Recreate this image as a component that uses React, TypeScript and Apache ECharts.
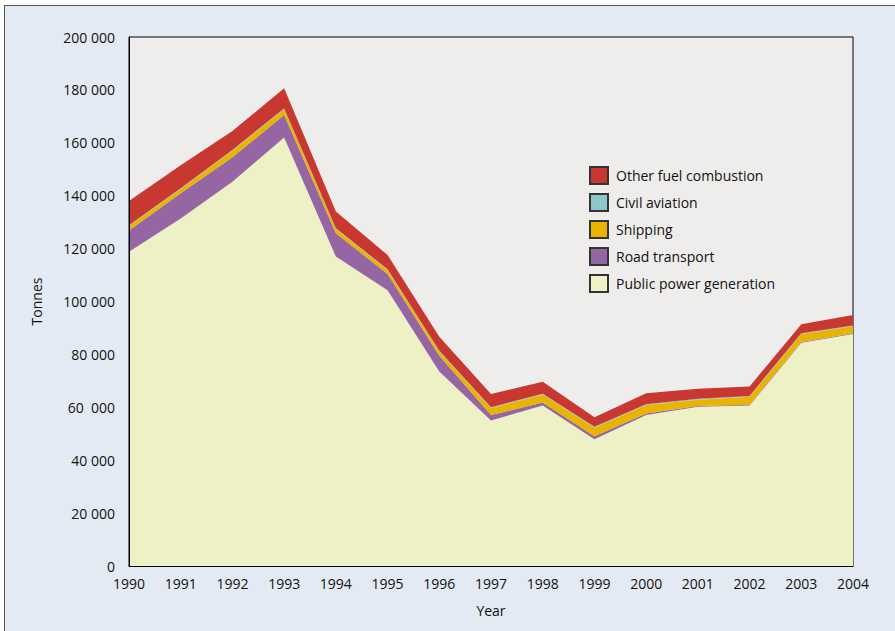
import React, { useEffect, useRef } from "react";
import * as echarts from "echarts";

const years = ["1990","1991","1992","1993","1994","1995","1996","1997","1998","1999","2000","2001","2002","2003","2004"];
const publicPower = [118800,131400,145300,162000,117000,104300,73500,55000,60700,47900,57100,60200,60700,84400,87700];
const roadTransport = [8000,9500,9200,8500,8800,6100,6000,2100,1100,1200,600,300,300,300,300];
const shipping = [1700,1600,2500,2200,1600,1500,1600,2600,3000,3200,3200,2400,3000,3000,2600];
const civilAviation = [300,300,300,300,300,300,300,300,300,300,300,300,300,300,300];
const otherFuel = [9200,8700,7200,7600,6300,5400,5300,5000,4600,3600,4100,3800,3600,3400,4000];
const yTickLabels = ["0","20 000","40 000","60  000","80 000","100 000","120 000","140 000","160 000","180 000","200 000"];

const FONT = "'Open Sans', sans-serif";

export default function App() {
  const ref = useRef<HTMLDivElement>(null);
  useEffect(() => {
    if (!ref.current) return;
    const chart = echarts.init(ref.current, null, { renderer: "svg" });
    const mk = (name: string, data: number[], color: string, z: number) => ({
      name,
      type: "line",
      stack: "total",
      data,
      symbol: "none",
      lineStyle: { width: 0 },
      areaStyle: { color, opacity: 1 },
      itemStyle: { color, borderColor: "#333", borderWidth: 1 },
      z,
    });
    chart.setOption({
      animation: false,
      textStyle: { fontFamily: FONT },
      grid: {
        left: 129, top: 37, right: 42, bottom: 65,
        show: true, backgroundColor: "#eeedeb", borderColor: "#000", borderWidth: 1,
      },
      legend: {
        orient: "vertical",
        left: 584, top: 161,
        itemWidth: 18, itemHeight: 17, itemGap: 8,
        icon: "rect",
        textStyle: { fontFamily: FONT, fontSize: 14, color: "#111", padding: [0, 0, 0, 3] },
        data: ["Other fuel combustion","Civil aviation","Shipping","Road transport","Public power generation"],
      },
      xAxis: {
        type: "category",
        data: years,
        boundaryGap: false,
        name: "Year",
        nameLocation: "middle",
        nameGap: 37,
        nameTextStyle: { fontFamily: FONT, fontSize: 14, color: "#111" },
        axisLine: { lineStyle: { color: "#000", width: 1 } },
        axisTick: { show: false },
        axisLabel: { fontFamily: FONT, fontSize: 14, color: "#111", margin: 10 },
        z: 10,
      },
      yAxis: {
        type: "value",
        min: 0, max: 200000, interval: 20000,
        name: "Tonnes",
        nameLocation: "middle",
        nameGap: 86,
        nameTextStyle: { fontFamily: FONT, fontSize: 14, color: "#111" },
        splitLine: { show: false },
        axisLine: { show: true, lineStyle: { color: "#000", width: 1 } },
        axisTick: { show: false },
        axisLabel: {
          fontFamily: FONT, fontSize: 14, color: "#111", margin: 14,
          formatter: (v: number) => yTickLabels[Math.round(v / 20000)] ?? "",
        },
        z: 10,
      },
      series: [
        mk("Public power generation", publicPower, "#eef0c6", 2),
        mk("Road transport", roadTransport, "#9566a3", 3),
        mk("Shipping", shipping, "#e8b400", 4),
        mk("Civil aviation", civilAviation, "#8fc6c9", 5),
        mk("Other fuel combustion", otherFuel, "#c83830", 6),
      ],
    });
    return () => chart.dispose();
  }, []);
  return (
    <div style={{ position: "fixed", left: 0, top: 0, width: 895, height: 631, background: "#fff", overflow: "hidden" }}>
      <div style={{ position: "absolute", left: 4, top: 5, width: 900, height: 700, background: "#e4eaf4", borderLeft: "1px solid #555", borderTop: "1px solid #555" }} />
      <div ref={ref} style={{ position: "absolute", left: 0, top: 0, width: 895, height: 631 }} />
    </div>
  );
}
